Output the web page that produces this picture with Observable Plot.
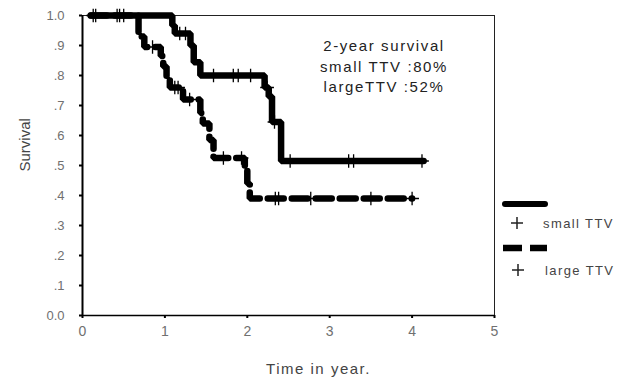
<!DOCTYPE html>
<html>
<head>
<meta charset="utf-8">
<script src="https://cdn.jsdelivr.net/npm/d3@7"></script>
<script src="https://cdn.jsdelivr.net/npm/@observablehq/plot@0.6"></script>
<style>
  html, body { margin: 0; padding: 0; background: white; }
</style>
</head>
<body>
<div id="chart"></div>
<script>
// Kaplan–Meier step data
const smallTime = [0.1, 1.09, 1.12, 1.31, 1.35, 1.43, 2.21, 2.26, 2.30, 2.41, 4.14];
const smallSurv = [1.0, 0.967, 0.94, 0.90, 0.844, 0.80, 0.76, 0.73, 0.645, 0.515, 0.515];
const largeTime = [0.1, 0.68, 0.75, 0.95, 0.98, 1.02, 1.06, 1.22, 1.43, 1.46, 1.54, 1.59, 1.97, 2.00, 2.03, 4.00];
const largeSurv = [1.0, 0.93, 0.895, 0.865, 0.83, 0.79, 0.76, 0.72, 0.675, 0.64, 0.585, 0.525, 0.485, 0.44, 0.39, 0.39];
// censored observations (times)
const smallCensor = [0.13, 0.42, 0.50, 1.18, 1.25, 1.59, 1.83, 1.89, 2.04, 2.24, 2.33, 2.52, 3.23, 3.29, 4.12];
const largeCensor = [0.16, 0.45, 0.85, 1.12, 1.16, 1.30, 1.71, 1.93, 2.34, 2.38, 2.77, 3.50, 4.00];
// axis ticks
const xTicks = [0, 1, 2, 3, 4, 5];
const yTicks = [0, 0.1, 0.2, 0.3, 0.4, 0.5, 0.6, 0.7, 0.8, 0.9, 1.0];
const yTickLabels = ["0.0", ".1", ".2", ".3", ".4", ".5", ".6", ".7", ".8", ".9", "1.0"];
// texts
const annotationLines = ["2-year survival", "small TTV :80%", "largeTTV :52%"];
const legendLabels = ["small TTV", "large TTV"];

function survAt(times, survs, t) {
  let s = survs[0];
  for (let i = 0; i < times.length; i++) if (times[i] <= t) s = survs[i];
  return s;
}
const smallCurve = smallTime.map((t, i) => ({t, s: smallSurv[i]}));
const largeCurve = largeTime.map((t, i) => ({t, s: largeSurv[i]}));
const smallCens = smallCensor.map(t => ({t, s: survAt(smallTime, smallSurv, t)}));
const largeCens = largeCensor.map(t => ({t, s: survAt(largeTime, largeSurv, t)}));

const textColor = "#444";
const tickColor = "#707070";
const font = "'Liberation Sans', Arial, sans-serif";

const chart = Plot.plot({
  width: 635,
  height: 384,
  marginLeft: 82,
  marginRight: 141,
  marginTop: 15,
  marginBottom: 69,
  x: {domain: [0, 5]},
  y: {domain: [0, 1]},
  style: {fontFamily: font, background: "white", overflow: "visible"},
  marks: [
    Plot.ruleY([1], {stroke: "#222", strokeWidth: 1}),
    Plot.ruleX([5], {stroke: "#222", strokeWidth: 1}),
    Plot.line(largeCurve, {x: "t", y: "s", curve: "step-after", stroke: "black", strokeWidth: 6.5, strokeDasharray: "16,8", strokeLinejoin: "miter"}),
    Plot.line(smallCurve, {x: "t", y: "s", curve: "step-after", stroke: "black", strokeWidth: 6.5, strokeLinejoin: "miter"}),
    Plot.dot(smallCens, {x: "t", y: "s", symbol: "plus", r: 4.5, stroke: "black", strokeWidth: 1.3}),
    Plot.dot(largeCens, {x: "t", y: "s", symbol: "plus", r: 4.5, stroke: "black", strokeWidth: 1.3}),
    Plot.ruleX([0], {stroke: "black", strokeWidth: 2}),
    Plot.ruleY([0], {stroke: "black", strokeWidth: 1.6}),
    Plot.axisX({ticks: xTicks, tickSize: 3, tickPadding: 8, stroke: "black", strokeWidth: 2, fill: tickColor, fontSize: 14, label: null, tickFormat: d => String(d)}),
    Plot.axisY({ticks: yTicks, tickSize: 3, tickPadding: 15, stroke: "black", strokeWidth: 2, fill: tickColor, fontSize: 13, label: null, tickFormat: d => yTickLabels[yTicks.indexOf(d)]}),
    Plot.text(["Survival"], {text: d => d, frameAnchor: "left", rotate: -90, dx: -57, dy: 6, fontSize: 15, fill: textColor}),
    Plot.text(["Time in year."], {text: d => d, frameAnchor: "bottom", dx: 30, dy: 58, fontSize: 15, fill: textColor})
  ]
});

const svg = d3.select(chart);
svg.selectAll("text").filter(function() { return this.textContent === "Time in year."; })
  .style("letter-spacing", "1.5px");

// annotation block inside the frame (upper right)
const ann = svg.append("g").attr("font-family", font).attr("text-anchor", "middle");
annotationLines.forEach((line, i) => {
  ann.append("text").attr("x", 384).attr("y", 46 + i * 20.5).attr("dy", "0.35em")
    .attr("font-size", 15).attr("fill", "#222").style("letter-spacing", "1.6px").text(line);
});

// legend (outside the frame, on the right)
const lg = svg.append("g").attr("font-family", font).attr("text-anchor", "start");
lg.append("line").attr("x1", 505).attr("x2", 545).attr("y1", 204).attr("y2", 204)
  .attr("stroke", "black").attr("stroke-width", 6).attr("stroke-linecap", "round");
lg.append("path").attr("d", "M503,248H522M530,248H547")
  .attr("stroke", "black").attr("stroke-width", 6.5);
legendLabels.forEach((lab, i) => {
  const y = 223 + i * 47;
  lg.append("path").attr("d", `M${511 + i},${y}H${523 + i}M${517 + i},${y - 6}V${y + 6}`)
    .attr("stroke", "#222").attr("stroke-width", 1.5);
  lg.append("text").attr("x", 543 + i * 2).attr("y", y).attr("dy", "0.35em")
    .attr("font-size", 13).attr("fill", textColor).style("letter-spacing", "1.4px").text(lab);
});

document.getElementById("chart").appendChild(chart);
</script>
</body>
</html>
